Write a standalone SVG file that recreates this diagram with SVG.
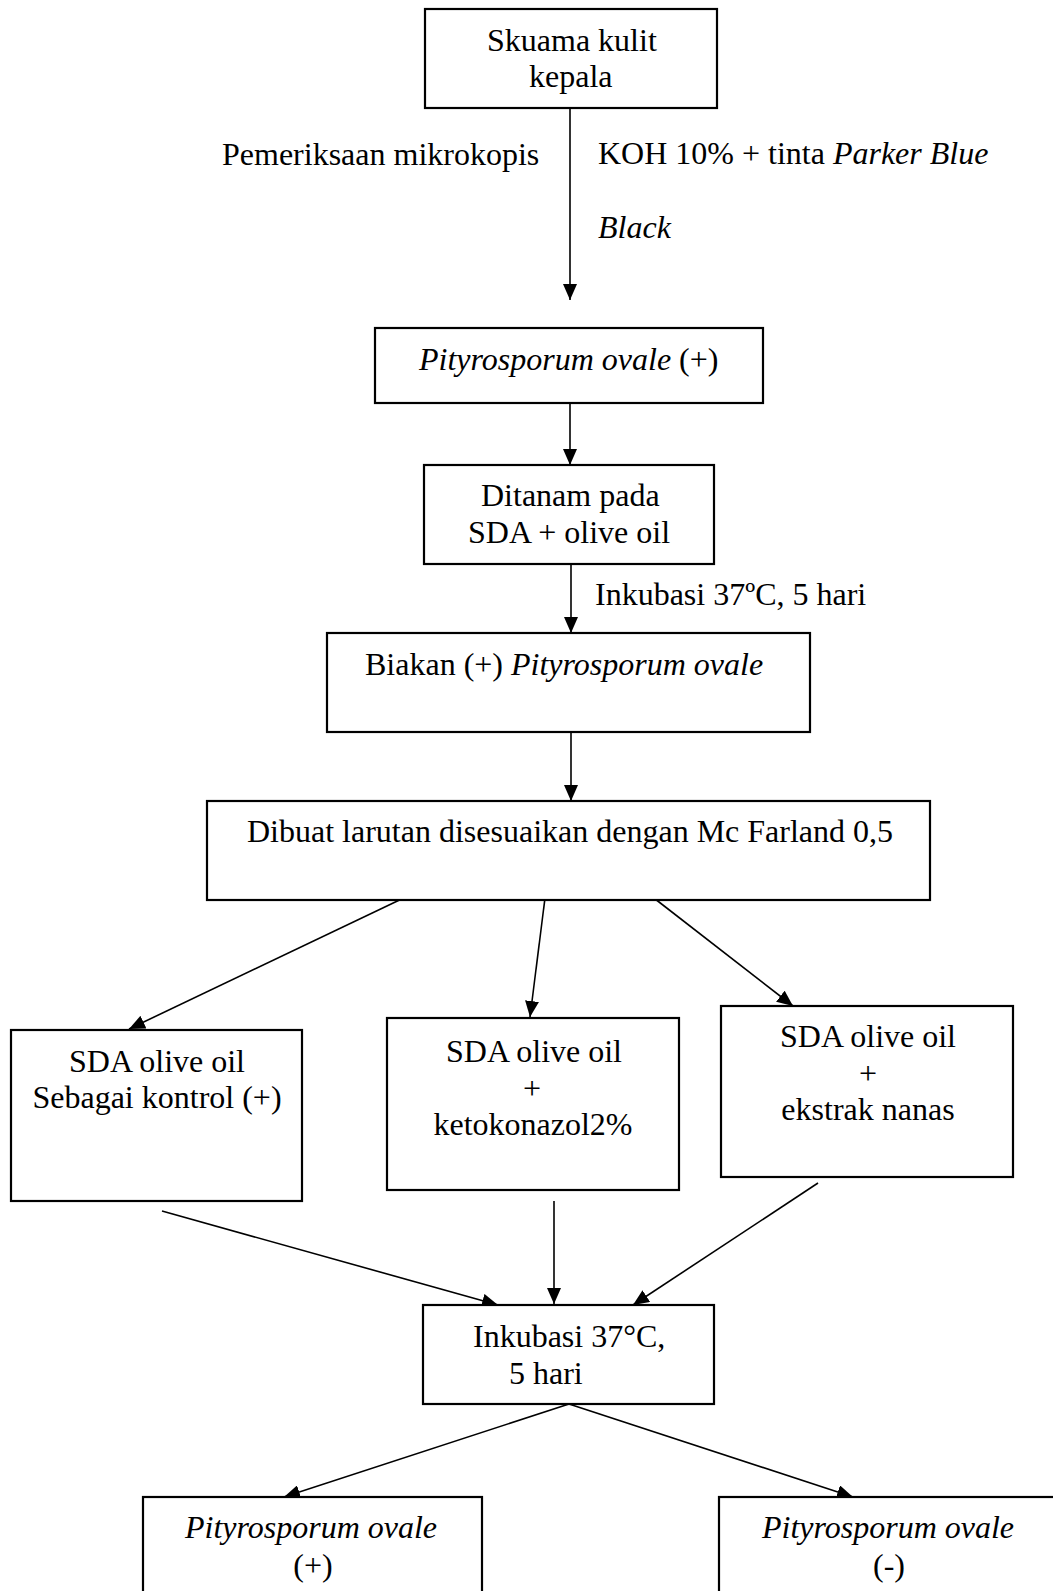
<svg xmlns="http://www.w3.org/2000/svg" width="1053" height="1591" viewBox="0 0 1053 1591">
<style>
text { font-family: "Liberation Serif", "Times New Roman", serif; font-size: 32px; fill: #000; }
.it { font-style: italic; }
.c { text-anchor: middle; }
.box { fill: #fff; stroke: #000; stroke-width: 2.2; }
.ln { stroke: #000; stroke-width: 1.6; fill: none; marker-end: url(#ah); }
</style>
<defs>
<marker id="ah" markerUnits="userSpaceOnUse" markerWidth="16" markerHeight="14" refX="16" refY="7" orient="auto" viewBox="0 0 16 14">
<path d="M0,0 L16,7 L0,14 z" fill="#000"/>
</marker>
</defs>
<rect width="1053" height="1591" fill="#fff"/>

<g id="connectors">
<line class="ln" x1="570" y1="108" x2="570" y2="300"/>
<line class="ln" x1="570" y1="403" x2="570" y2="465"/>
<line class="ln" x1="571" y1="564" x2="571" y2="633"/>
<line class="ln" x1="571" y1="732" x2="571" y2="801"/>
<line class="ln" x1="410" y1="895" x2="129" y2="1029"/>
<line class="ln" x1="545" y1="898" x2="530" y2="1017"/>
<line class="ln" x1="650" y1="895" x2="793" y2="1006"/>
<line class="ln" x1="162" y1="1211" x2="498" y2="1305"/>
<line class="ln" x1="554" y1="1201" x2="554" y2="1304"/>
<line class="ln" x1="818" y1="1183" x2="633" y2="1305"/>
<line class="ln" x1="569" y1="1404" x2="284" y2="1497"/>
<line class="ln" x1="569" y1="1404" x2="853" y2="1497"/>
</g>

<g id="labels">
<text x="222" y="165">Pemeriksaan mikrokopis</text>
<text x="598" y="164">KOH 10% + tinta <tspan class="it">Parker Blue</tspan></text>
<text class="it" x="598" y="238">Black</text>
<text x="595" y="605">Inkubasi 37ºC, 5 hari</text>
</g>

<g id="n1">
<rect class="box" x="425" y="9" width="292" height="99"/>
<text x="487" y="51">Skuama kulit</text>
<text x="529" y="87">kepala</text>
</g>

<g id="n2">
<rect class="box" x="375" y="328" width="388" height="75"/>
<text x="419" y="370"><tspan class="it">Pityrosporum ovale</tspan> (+)</text>
</g>

<g id="n3">
<rect class="box" x="424" y="465" width="290" height="99"/>
<text x="481" y="506">Ditanam pada</text>
<text x="468" y="543">SDA + olive oil</text>
</g>

<g id="n4">
<rect class="box" x="327" y="633" width="483" height="99"/>
<text x="365" y="675">Biakan (+) <tspan class="it">Pityrosporum ovale</tspan></text>
</g>

<g id="n5">
<rect class="box" x="207" y="801" width="723" height="99"/>
<text x="247" y="842">Dibuat larutan disesuaikan dengan Mc Farland 0,5</text>
</g>

<g id="n6">
<rect class="box" x="11" y="1030" width="291" height="171"/>
<text class="c" x="157" y="1072">SDA olive oil</text>
<text class="c" x="157" y="1108">Sebagai kontrol (+)</text>
</g>

<g id="n7">
<rect class="box" x="387" y="1018" width="292" height="172"/>
<text class="c" x="534" y="1062">SDA olive oil</text>
<text class="c" x="532" y="1099">+</text>
<text class="c" x="533" y="1135">ketokonazol2%</text>
</g>

<g id="n8">
<rect class="box" x="721" y="1006" width="292" height="171"/>
<text class="c" x="868" y="1047">SDA olive oil</text>
<text class="c" x="868" y="1084">+</text>
<text class="c" x="868" y="1120">ekstrak nanas</text>
</g>

<g id="n9">
<rect class="box" x="423" y="1305" width="291" height="99"/>
<text x="473" y="1347">Inkubasi 37°C,</text>
<text x="509" y="1384">5 hari</text>
</g>

<g id="n10">
<rect class="box" x="143" y="1497" width="339" height="110"/>
<text class="c it" x="311" y="1538">Pityrosporum ovale</text>
<text class="c" x="313" y="1576">(+)</text>
</g>

<g id="n11">
<rect class="box" x="719" y="1497" width="350" height="110"/>
<text class="c it" x="888" y="1538">Pityrosporum ovale</text>
<text class="c" x="889" y="1576">(-)</text>
</g>
</svg>
